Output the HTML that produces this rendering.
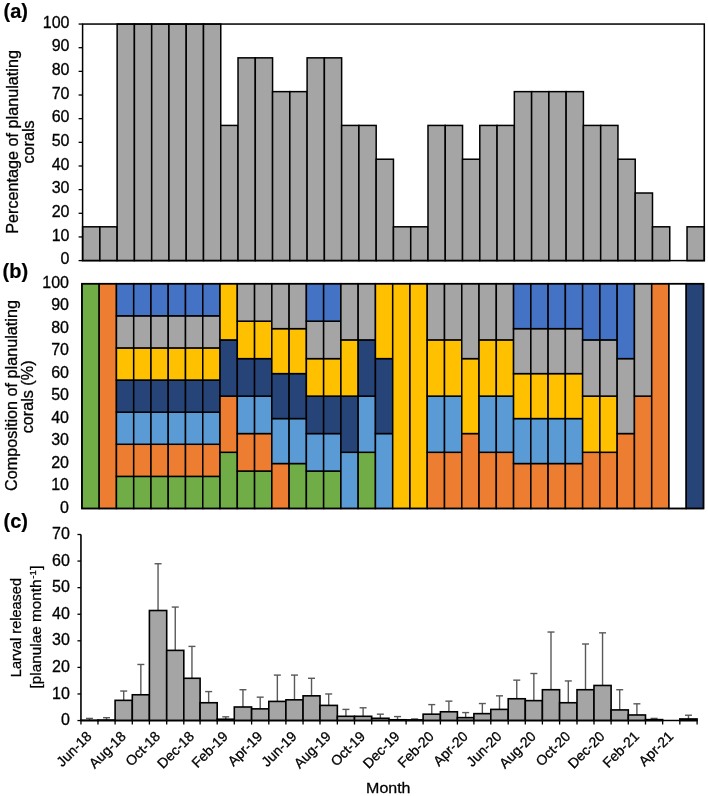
<!DOCTYPE html>
<html><head><meta charset="utf-8"><style>
html,body{margin:0;padding:0;background:#fff;}
svg{display:block;will-change:transform;}
.t{font-family:"Liberation Sans", sans-serif;font-size:16px;fill:#000;}
text{stroke:#000;stroke-width:0.3px;}
.lb{stroke-width:0.2px;}
.ti{font-family:"Liberation Sans", sans-serif;font-size:16.2px;fill:#000;}
.tc{font-family:"Liberation Sans", sans-serif;font-size:14.5px;fill:#000;}
.tc2{font-family:"Liberation Sans", sans-serif;font-size:15.3px;fill:#000;}
.tx{font-family:"Liberation Sans", sans-serif;font-size:14px;fill:#000;}
.tm{font-family:"Liberation Sans", sans-serif;font-size:16px;fill:#000;}
.lb{font-family:"Liberation Sans", sans-serif;font-size:20px;font-weight:bold;fill:#000;}
</style></head><body>
<svg width="708" height="796" viewBox="0 0 708 796">
<text x="3.5" y="18" class="lb">(a)</text>
<text x="2.5" y="277.5" class="lb">(b)</text>
<text x="3.5" y="528" class="lb">(c)</text>
<text transform="translate(17.7,141.9) rotate(-90)" text-anchor="middle" class="ti">Percentage of planulating</text>
<text transform="translate(34.3,141.9) rotate(-90)" text-anchor="middle" class="ti">corals</text>
<text transform="translate(16.6,395.5) rotate(-90)" text-anchor="middle" class="ti">Composition of planulating</text>
<text transform="translate(33,396.9) rotate(-90)" text-anchor="middle" class="ti">corals (%)</text>
<text transform="translate(21.2,627.6) rotate(-90)" text-anchor="middle" class="tc">Larval released</text>
<text transform="translate(40.5,688.4) rotate(-90)" class="tc2">[planulae month<tspan dy="-4.7" dx="0.8" font-size="9.5">-1</tspan><tspan dy="4.7" dx="0.6">]</tspan></text>
<text transform="translate(388.3,792.7) scale(1,0.92)" text-anchor="middle" class="tm">Month</text>
<rect x="82.60" y="226.81" width="17.27" height="33.79" fill="#A5A5A5" stroke="#000" stroke-width="1.5"/>
<rect x="99.87" y="226.81" width="17.27" height="33.79" fill="#A5A5A5" stroke="#000" stroke-width="1.5"/>
<rect x="117.14" y="24.05" width="17.27" height="236.55" fill="#A5A5A5" stroke="#000" stroke-width="1.5"/>
<rect x="134.41" y="24.05" width="17.27" height="236.55" fill="#A5A5A5" stroke="#000" stroke-width="1.5"/>
<rect x="151.68" y="24.05" width="17.27" height="236.55" fill="#A5A5A5" stroke="#000" stroke-width="1.5"/>
<rect x="168.95" y="24.05" width="17.27" height="236.55" fill="#A5A5A5" stroke="#000" stroke-width="1.5"/>
<rect x="186.22" y="24.05" width="17.27" height="236.55" fill="#A5A5A5" stroke="#000" stroke-width="1.5"/>
<rect x="203.49" y="24.05" width="17.27" height="236.55" fill="#A5A5A5" stroke="#000" stroke-width="1.5"/>
<rect x="220.76" y="125.43" width="17.27" height="135.17" fill="#A5A5A5" stroke="#000" stroke-width="1.5"/>
<rect x="238.02" y="57.84" width="17.27" height="202.76" fill="#A5A5A5" stroke="#000" stroke-width="1.5"/>
<rect x="255.29" y="57.84" width="17.27" height="202.76" fill="#A5A5A5" stroke="#000" stroke-width="1.5"/>
<rect x="272.56" y="91.64" width="17.27" height="168.96" fill="#A5A5A5" stroke="#000" stroke-width="1.5"/>
<rect x="289.83" y="91.64" width="17.27" height="168.96" fill="#A5A5A5" stroke="#000" stroke-width="1.5"/>
<rect x="307.10" y="57.84" width="17.27" height="202.76" fill="#A5A5A5" stroke="#000" stroke-width="1.5"/>
<rect x="324.37" y="57.84" width="17.27" height="202.76" fill="#A5A5A5" stroke="#000" stroke-width="1.5"/>
<rect x="341.64" y="125.43" width="17.27" height="135.17" fill="#A5A5A5" stroke="#000" stroke-width="1.5"/>
<rect x="358.91" y="125.43" width="17.27" height="135.17" fill="#A5A5A5" stroke="#000" stroke-width="1.5"/>
<rect x="376.18" y="159.22" width="17.27" height="101.38" fill="#A5A5A5" stroke="#000" stroke-width="1.5"/>
<rect x="393.45" y="226.81" width="17.27" height="33.79" fill="#A5A5A5" stroke="#000" stroke-width="1.5"/>
<rect x="410.72" y="226.81" width="17.27" height="33.79" fill="#A5A5A5" stroke="#000" stroke-width="1.5"/>
<rect x="427.99" y="125.43" width="17.27" height="135.17" fill="#A5A5A5" stroke="#000" stroke-width="1.5"/>
<rect x="445.26" y="125.43" width="17.27" height="135.17" fill="#A5A5A5" stroke="#000" stroke-width="1.5"/>
<rect x="462.53" y="159.22" width="17.27" height="101.38" fill="#A5A5A5" stroke="#000" stroke-width="1.5"/>
<rect x="479.80" y="125.43" width="17.27" height="135.17" fill="#A5A5A5" stroke="#000" stroke-width="1.5"/>
<rect x="497.07" y="125.43" width="17.27" height="135.17" fill="#A5A5A5" stroke="#000" stroke-width="1.5"/>
<rect x="514.34" y="91.64" width="17.27" height="168.96" fill="#A5A5A5" stroke="#000" stroke-width="1.5"/>
<rect x="531.61" y="91.64" width="17.27" height="168.96" fill="#A5A5A5" stroke="#000" stroke-width="1.5"/>
<rect x="548.87" y="91.64" width="17.27" height="168.96" fill="#A5A5A5" stroke="#000" stroke-width="1.5"/>
<rect x="566.14" y="91.64" width="17.27" height="168.96" fill="#A5A5A5" stroke="#000" stroke-width="1.5"/>
<rect x="583.41" y="125.43" width="17.27" height="135.17" fill="#A5A5A5" stroke="#000" stroke-width="1.5"/>
<rect x="600.68" y="125.43" width="17.27" height="135.17" fill="#A5A5A5" stroke="#000" stroke-width="1.5"/>
<rect x="617.95" y="159.22" width="17.27" height="101.38" fill="#A5A5A5" stroke="#000" stroke-width="1.5"/>
<rect x="635.22" y="193.01" width="17.27" height="67.59" fill="#A5A5A5" stroke="#000" stroke-width="1.5"/>
<rect x="652.49" y="226.81" width="17.27" height="33.79" fill="#A5A5A5" stroke="#000" stroke-width="1.5"/>
<rect x="687.03" y="226.81" width="17.27" height="33.79" fill="#A5A5A5" stroke="#000" stroke-width="1.5"/>
<rect x="82.60" y="24.05" width="621.70" height="236.55" fill="none" stroke="#000" stroke-width="1.5"/>
<line x1="78.60" y1="260.60" x2="82.60" y2="260.60" stroke="#000" stroke-width="1.3"/>
<text x="69.5" y="264.20" text-anchor="end" class="t">0</text>
<line x1="78.60" y1="236.95" x2="82.60" y2="236.95" stroke="#000" stroke-width="1.3"/>
<text x="69.5" y="240.55" text-anchor="end" class="t">10</text>
<line x1="78.60" y1="213.29" x2="82.60" y2="213.29" stroke="#000" stroke-width="1.3"/>
<text x="69.5" y="216.89" text-anchor="end" class="t">20</text>
<line x1="78.60" y1="189.64" x2="82.60" y2="189.64" stroke="#000" stroke-width="1.3"/>
<text x="69.5" y="193.24" text-anchor="end" class="t">30</text>
<line x1="78.60" y1="165.98" x2="82.60" y2="165.98" stroke="#000" stroke-width="1.3"/>
<text x="69.5" y="169.58" text-anchor="end" class="t">40</text>
<line x1="78.60" y1="142.33" x2="82.60" y2="142.33" stroke="#000" stroke-width="1.3"/>
<text x="69.5" y="145.93" text-anchor="end" class="t">50</text>
<line x1="78.60" y1="118.67" x2="82.60" y2="118.67" stroke="#000" stroke-width="1.3"/>
<text x="69.5" y="122.27" text-anchor="end" class="t">60</text>
<line x1="78.60" y1="95.02" x2="82.60" y2="95.02" stroke="#000" stroke-width="1.3"/>
<text x="69.5" y="98.62" text-anchor="end" class="t">70</text>
<line x1="78.60" y1="71.36" x2="82.60" y2="71.36" stroke="#000" stroke-width="1.3"/>
<text x="69.5" y="74.96" text-anchor="end" class="t">80</text>
<line x1="78.60" y1="47.70" x2="82.60" y2="47.70" stroke="#000" stroke-width="1.3"/>
<text x="69.5" y="51.30" text-anchor="end" class="t">90</text>
<line x1="78.60" y1="24.05" x2="82.60" y2="24.05" stroke="#000" stroke-width="1.3"/>
<text x="69.5" y="27.65" text-anchor="end" class="t">100</text>
<rect x="81.90" y="283.70" width="17.27" height="224.80" fill="#70AD47" stroke="#000" stroke-width="1.5"/>
<rect x="99.17" y="283.70" width="17.27" height="224.80" fill="#ED7D31" stroke="#000" stroke-width="1.5"/>
<rect x="116.43" y="476.39" width="17.27" height="32.11" fill="#70AD47" stroke="#000" stroke-width="1.5"/>
<rect x="116.43" y="444.27" width="17.27" height="32.11" fill="#ED7D31" stroke="#000" stroke-width="1.5"/>
<rect x="116.43" y="412.16" width="17.27" height="32.11" fill="#5B9BD5" stroke="#000" stroke-width="1.5"/>
<rect x="116.43" y="380.04" width="17.27" height="32.11" fill="#264478" stroke="#000" stroke-width="1.5"/>
<rect x="116.43" y="347.93" width="17.27" height="32.11" fill="#FFC000" stroke="#000" stroke-width="1.5"/>
<rect x="116.43" y="315.81" width="17.27" height="32.11" fill="#A5A5A5" stroke="#000" stroke-width="1.5"/>
<rect x="116.43" y="283.70" width="17.27" height="32.11" fill="#4472C4" stroke="#000" stroke-width="1.5"/>
<rect x="133.70" y="476.39" width="17.27" height="32.11" fill="#70AD47" stroke="#000" stroke-width="1.5"/>
<rect x="133.70" y="444.27" width="17.27" height="32.11" fill="#ED7D31" stroke="#000" stroke-width="1.5"/>
<rect x="133.70" y="412.16" width="17.27" height="32.11" fill="#5B9BD5" stroke="#000" stroke-width="1.5"/>
<rect x="133.70" y="380.04" width="17.27" height="32.11" fill="#264478" stroke="#000" stroke-width="1.5"/>
<rect x="133.70" y="347.93" width="17.27" height="32.11" fill="#FFC000" stroke="#000" stroke-width="1.5"/>
<rect x="133.70" y="315.81" width="17.27" height="32.11" fill="#A5A5A5" stroke="#000" stroke-width="1.5"/>
<rect x="133.70" y="283.70" width="17.27" height="32.11" fill="#4472C4" stroke="#000" stroke-width="1.5"/>
<rect x="150.97" y="476.39" width="17.27" height="32.11" fill="#70AD47" stroke="#000" stroke-width="1.5"/>
<rect x="150.97" y="444.27" width="17.27" height="32.11" fill="#ED7D31" stroke="#000" stroke-width="1.5"/>
<rect x="150.97" y="412.16" width="17.27" height="32.11" fill="#5B9BD5" stroke="#000" stroke-width="1.5"/>
<rect x="150.97" y="380.04" width="17.27" height="32.11" fill="#264478" stroke="#000" stroke-width="1.5"/>
<rect x="150.97" y="347.93" width="17.27" height="32.11" fill="#FFC000" stroke="#000" stroke-width="1.5"/>
<rect x="150.97" y="315.81" width="17.27" height="32.11" fill="#A5A5A5" stroke="#000" stroke-width="1.5"/>
<rect x="150.97" y="283.70" width="17.27" height="32.11" fill="#4472C4" stroke="#000" stroke-width="1.5"/>
<rect x="168.23" y="476.39" width="17.27" height="32.11" fill="#70AD47" stroke="#000" stroke-width="1.5"/>
<rect x="168.23" y="444.27" width="17.27" height="32.11" fill="#ED7D31" stroke="#000" stroke-width="1.5"/>
<rect x="168.23" y="412.16" width="17.27" height="32.11" fill="#5B9BD5" stroke="#000" stroke-width="1.5"/>
<rect x="168.23" y="380.04" width="17.27" height="32.11" fill="#264478" stroke="#000" stroke-width="1.5"/>
<rect x="168.23" y="347.93" width="17.27" height="32.11" fill="#FFC000" stroke="#000" stroke-width="1.5"/>
<rect x="168.23" y="315.81" width="17.27" height="32.11" fill="#A5A5A5" stroke="#000" stroke-width="1.5"/>
<rect x="168.23" y="283.70" width="17.27" height="32.11" fill="#4472C4" stroke="#000" stroke-width="1.5"/>
<rect x="185.50" y="476.39" width="17.27" height="32.11" fill="#70AD47" stroke="#000" stroke-width="1.5"/>
<rect x="185.50" y="444.27" width="17.27" height="32.11" fill="#ED7D31" stroke="#000" stroke-width="1.5"/>
<rect x="185.50" y="412.16" width="17.27" height="32.11" fill="#5B9BD5" stroke="#000" stroke-width="1.5"/>
<rect x="185.50" y="380.04" width="17.27" height="32.11" fill="#264478" stroke="#000" stroke-width="1.5"/>
<rect x="185.50" y="347.93" width="17.27" height="32.11" fill="#FFC000" stroke="#000" stroke-width="1.5"/>
<rect x="185.50" y="315.81" width="17.27" height="32.11" fill="#A5A5A5" stroke="#000" stroke-width="1.5"/>
<rect x="185.50" y="283.70" width="17.27" height="32.11" fill="#4472C4" stroke="#000" stroke-width="1.5"/>
<rect x="202.77" y="476.39" width="17.27" height="32.11" fill="#70AD47" stroke="#000" stroke-width="1.5"/>
<rect x="202.77" y="444.27" width="17.27" height="32.11" fill="#ED7D31" stroke="#000" stroke-width="1.5"/>
<rect x="202.77" y="412.16" width="17.27" height="32.11" fill="#5B9BD5" stroke="#000" stroke-width="1.5"/>
<rect x="202.77" y="380.04" width="17.27" height="32.11" fill="#264478" stroke="#000" stroke-width="1.5"/>
<rect x="202.77" y="347.93" width="17.27" height="32.11" fill="#FFC000" stroke="#000" stroke-width="1.5"/>
<rect x="202.77" y="315.81" width="17.27" height="32.11" fill="#A5A5A5" stroke="#000" stroke-width="1.5"/>
<rect x="202.77" y="283.70" width="17.27" height="32.11" fill="#4472C4" stroke="#000" stroke-width="1.5"/>
<rect x="220.03" y="452.30" width="17.27" height="56.20" fill="#70AD47" stroke="#000" stroke-width="1.5"/>
<rect x="220.03" y="396.10" width="17.27" height="56.20" fill="#ED7D31" stroke="#000" stroke-width="1.5"/>
<rect x="220.03" y="339.90" width="17.27" height="56.20" fill="#264478" stroke="#000" stroke-width="1.5"/>
<rect x="220.03" y="283.70" width="17.27" height="56.20" fill="#FFC000" stroke="#000" stroke-width="1.5"/>
<rect x="237.30" y="471.03" width="17.27" height="37.47" fill="#70AD47" stroke="#000" stroke-width="1.5"/>
<rect x="237.30" y="433.57" width="17.27" height="37.47" fill="#ED7D31" stroke="#000" stroke-width="1.5"/>
<rect x="237.30" y="396.10" width="17.27" height="37.47" fill="#5B9BD5" stroke="#000" stroke-width="1.5"/>
<rect x="237.30" y="358.63" width="17.27" height="37.47" fill="#264478" stroke="#000" stroke-width="1.5"/>
<rect x="237.30" y="321.17" width="17.27" height="37.47" fill="#FFC000" stroke="#000" stroke-width="1.5"/>
<rect x="237.30" y="283.70" width="17.27" height="37.47" fill="#A5A5A5" stroke="#000" stroke-width="1.5"/>
<rect x="254.57" y="471.03" width="17.27" height="37.47" fill="#70AD47" stroke="#000" stroke-width="1.5"/>
<rect x="254.57" y="433.57" width="17.27" height="37.47" fill="#ED7D31" stroke="#000" stroke-width="1.5"/>
<rect x="254.57" y="396.10" width="17.27" height="37.47" fill="#5B9BD5" stroke="#000" stroke-width="1.5"/>
<rect x="254.57" y="358.63" width="17.27" height="37.47" fill="#264478" stroke="#000" stroke-width="1.5"/>
<rect x="254.57" y="321.17" width="17.27" height="37.47" fill="#FFC000" stroke="#000" stroke-width="1.5"/>
<rect x="254.57" y="283.70" width="17.27" height="37.47" fill="#A5A5A5" stroke="#000" stroke-width="1.5"/>
<rect x="271.83" y="463.54" width="17.27" height="44.96" fill="#ED7D31" stroke="#000" stroke-width="1.5"/>
<rect x="271.83" y="418.58" width="17.27" height="44.96" fill="#5B9BD5" stroke="#000" stroke-width="1.5"/>
<rect x="271.83" y="373.62" width="17.27" height="44.96" fill="#264478" stroke="#000" stroke-width="1.5"/>
<rect x="271.83" y="328.66" width="17.27" height="44.96" fill="#FFC000" stroke="#000" stroke-width="1.5"/>
<rect x="271.83" y="283.70" width="17.27" height="44.96" fill="#A5A5A5" stroke="#000" stroke-width="1.5"/>
<rect x="289.10" y="463.54" width="17.27" height="44.96" fill="#70AD47" stroke="#000" stroke-width="1.5"/>
<rect x="289.10" y="418.58" width="17.27" height="44.96" fill="#5B9BD5" stroke="#000" stroke-width="1.5"/>
<rect x="289.10" y="373.62" width="17.27" height="44.96" fill="#264478" stroke="#000" stroke-width="1.5"/>
<rect x="289.10" y="328.66" width="17.27" height="44.96" fill="#FFC000" stroke="#000" stroke-width="1.5"/>
<rect x="289.10" y="283.70" width="17.27" height="44.96" fill="#A5A5A5" stroke="#000" stroke-width="1.5"/>
<rect x="306.37" y="471.03" width="17.27" height="37.47" fill="#70AD47" stroke="#000" stroke-width="1.5"/>
<rect x="306.37" y="433.57" width="17.27" height="37.47" fill="#5B9BD5" stroke="#000" stroke-width="1.5"/>
<rect x="306.37" y="396.10" width="17.27" height="37.47" fill="#264478" stroke="#000" stroke-width="1.5"/>
<rect x="306.37" y="358.63" width="17.27" height="37.47" fill="#FFC000" stroke="#000" stroke-width="1.5"/>
<rect x="306.37" y="321.17" width="17.27" height="37.47" fill="#A5A5A5" stroke="#000" stroke-width="1.5"/>
<rect x="306.37" y="283.70" width="17.27" height="37.47" fill="#4472C4" stroke="#000" stroke-width="1.5"/>
<rect x="323.63" y="471.03" width="17.27" height="37.47" fill="#70AD47" stroke="#000" stroke-width="1.5"/>
<rect x="323.63" y="433.57" width="17.27" height="37.47" fill="#5B9BD5" stroke="#000" stroke-width="1.5"/>
<rect x="323.63" y="396.10" width="17.27" height="37.47" fill="#264478" stroke="#000" stroke-width="1.5"/>
<rect x="323.63" y="358.63" width="17.27" height="37.47" fill="#FFC000" stroke="#000" stroke-width="1.5"/>
<rect x="323.63" y="321.17" width="17.27" height="37.47" fill="#A5A5A5" stroke="#000" stroke-width="1.5"/>
<rect x="323.63" y="283.70" width="17.27" height="37.47" fill="#4472C4" stroke="#000" stroke-width="1.5"/>
<rect x="340.90" y="452.30" width="17.27" height="56.20" fill="#5B9BD5" stroke="#000" stroke-width="1.5"/>
<rect x="340.90" y="396.10" width="17.27" height="56.20" fill="#264478" stroke="#000" stroke-width="1.5"/>
<rect x="340.90" y="339.90" width="17.27" height="56.20" fill="#FFC000" stroke="#000" stroke-width="1.5"/>
<rect x="340.90" y="283.70" width="17.27" height="56.20" fill="#A5A5A5" stroke="#000" stroke-width="1.5"/>
<rect x="358.17" y="452.30" width="17.27" height="56.20" fill="#70AD47" stroke="#000" stroke-width="1.5"/>
<rect x="358.17" y="396.10" width="17.27" height="56.20" fill="#5B9BD5" stroke="#000" stroke-width="1.5"/>
<rect x="358.17" y="339.90" width="17.27" height="56.20" fill="#264478" stroke="#000" stroke-width="1.5"/>
<rect x="358.17" y="283.70" width="17.27" height="56.20" fill="#A5A5A5" stroke="#000" stroke-width="1.5"/>
<rect x="375.43" y="433.57" width="17.27" height="74.93" fill="#5B9BD5" stroke="#000" stroke-width="1.5"/>
<rect x="375.43" y="358.63" width="17.27" height="74.93" fill="#264478" stroke="#000" stroke-width="1.5"/>
<rect x="375.43" y="283.70" width="17.27" height="74.93" fill="#FFC000" stroke="#000" stroke-width="1.5"/>
<rect x="392.70" y="283.70" width="17.27" height="224.80" fill="#FFC000" stroke="#000" stroke-width="1.5"/>
<rect x="409.97" y="283.70" width="17.27" height="224.80" fill="#FFC000" stroke="#000" stroke-width="1.5"/>
<rect x="427.23" y="452.30" width="17.27" height="56.20" fill="#ED7D31" stroke="#000" stroke-width="1.5"/>
<rect x="427.23" y="396.10" width="17.27" height="56.20" fill="#5B9BD5" stroke="#000" stroke-width="1.5"/>
<rect x="427.23" y="339.90" width="17.27" height="56.20" fill="#FFC000" stroke="#000" stroke-width="1.5"/>
<rect x="427.23" y="283.70" width="17.27" height="56.20" fill="#A5A5A5" stroke="#000" stroke-width="1.5"/>
<rect x="444.50" y="452.30" width="17.27" height="56.20" fill="#ED7D31" stroke="#000" stroke-width="1.5"/>
<rect x="444.50" y="396.10" width="17.27" height="56.20" fill="#5B9BD5" stroke="#000" stroke-width="1.5"/>
<rect x="444.50" y="339.90" width="17.27" height="56.20" fill="#FFC000" stroke="#000" stroke-width="1.5"/>
<rect x="444.50" y="283.70" width="17.27" height="56.20" fill="#A5A5A5" stroke="#000" stroke-width="1.5"/>
<rect x="461.77" y="433.57" width="17.27" height="74.93" fill="#ED7D31" stroke="#000" stroke-width="1.5"/>
<rect x="461.77" y="358.63" width="17.27" height="74.93" fill="#FFC000" stroke="#000" stroke-width="1.5"/>
<rect x="461.77" y="283.70" width="17.27" height="74.93" fill="#A5A5A5" stroke="#000" stroke-width="1.5"/>
<rect x="479.03" y="452.30" width="17.27" height="56.20" fill="#ED7D31" stroke="#000" stroke-width="1.5"/>
<rect x="479.03" y="396.10" width="17.27" height="56.20" fill="#5B9BD5" stroke="#000" stroke-width="1.5"/>
<rect x="479.03" y="339.90" width="17.27" height="56.20" fill="#FFC000" stroke="#000" stroke-width="1.5"/>
<rect x="479.03" y="283.70" width="17.27" height="56.20" fill="#A5A5A5" stroke="#000" stroke-width="1.5"/>
<rect x="496.30" y="452.30" width="17.27" height="56.20" fill="#ED7D31" stroke="#000" stroke-width="1.5"/>
<rect x="496.30" y="396.10" width="17.27" height="56.20" fill="#5B9BD5" stroke="#000" stroke-width="1.5"/>
<rect x="496.30" y="339.90" width="17.27" height="56.20" fill="#FFC000" stroke="#000" stroke-width="1.5"/>
<rect x="496.30" y="283.70" width="17.27" height="56.20" fill="#A5A5A5" stroke="#000" stroke-width="1.5"/>
<rect x="513.57" y="463.54" width="17.27" height="44.96" fill="#ED7D31" stroke="#000" stroke-width="1.5"/>
<rect x="513.57" y="418.58" width="17.27" height="44.96" fill="#5B9BD5" stroke="#000" stroke-width="1.5"/>
<rect x="513.57" y="373.62" width="17.27" height="44.96" fill="#FFC000" stroke="#000" stroke-width="1.5"/>
<rect x="513.57" y="328.66" width="17.27" height="44.96" fill="#A5A5A5" stroke="#000" stroke-width="1.5"/>
<rect x="513.57" y="283.70" width="17.27" height="44.96" fill="#4472C4" stroke="#000" stroke-width="1.5"/>
<rect x="530.83" y="463.54" width="17.27" height="44.96" fill="#ED7D31" stroke="#000" stroke-width="1.5"/>
<rect x="530.83" y="418.58" width="17.27" height="44.96" fill="#5B9BD5" stroke="#000" stroke-width="1.5"/>
<rect x="530.83" y="373.62" width="17.27" height="44.96" fill="#FFC000" stroke="#000" stroke-width="1.5"/>
<rect x="530.83" y="328.66" width="17.27" height="44.96" fill="#A5A5A5" stroke="#000" stroke-width="1.5"/>
<rect x="530.83" y="283.70" width="17.27" height="44.96" fill="#4472C4" stroke="#000" stroke-width="1.5"/>
<rect x="548.10" y="463.54" width="17.27" height="44.96" fill="#ED7D31" stroke="#000" stroke-width="1.5"/>
<rect x="548.10" y="418.58" width="17.27" height="44.96" fill="#5B9BD5" stroke="#000" stroke-width="1.5"/>
<rect x="548.10" y="373.62" width="17.27" height="44.96" fill="#FFC000" stroke="#000" stroke-width="1.5"/>
<rect x="548.10" y="328.66" width="17.27" height="44.96" fill="#A5A5A5" stroke="#000" stroke-width="1.5"/>
<rect x="548.10" y="283.70" width="17.27" height="44.96" fill="#4472C4" stroke="#000" stroke-width="1.5"/>
<rect x="565.37" y="463.54" width="17.27" height="44.96" fill="#ED7D31" stroke="#000" stroke-width="1.5"/>
<rect x="565.37" y="418.58" width="17.27" height="44.96" fill="#5B9BD5" stroke="#000" stroke-width="1.5"/>
<rect x="565.37" y="373.62" width="17.27" height="44.96" fill="#FFC000" stroke="#000" stroke-width="1.5"/>
<rect x="565.37" y="328.66" width="17.27" height="44.96" fill="#A5A5A5" stroke="#000" stroke-width="1.5"/>
<rect x="565.37" y="283.70" width="17.27" height="44.96" fill="#4472C4" stroke="#000" stroke-width="1.5"/>
<rect x="582.63" y="452.30" width="17.27" height="56.20" fill="#ED7D31" stroke="#000" stroke-width="1.5"/>
<rect x="582.63" y="396.10" width="17.27" height="56.20" fill="#FFC000" stroke="#000" stroke-width="1.5"/>
<rect x="582.63" y="339.90" width="17.27" height="56.20" fill="#A5A5A5" stroke="#000" stroke-width="1.5"/>
<rect x="582.63" y="283.70" width="17.27" height="56.20" fill="#4472C4" stroke="#000" stroke-width="1.5"/>
<rect x="599.90" y="452.30" width="17.27" height="56.20" fill="#ED7D31" stroke="#000" stroke-width="1.5"/>
<rect x="599.90" y="396.10" width="17.27" height="56.20" fill="#FFC000" stroke="#000" stroke-width="1.5"/>
<rect x="599.90" y="339.90" width="17.27" height="56.20" fill="#A5A5A5" stroke="#000" stroke-width="1.5"/>
<rect x="599.90" y="283.70" width="17.27" height="56.20" fill="#4472C4" stroke="#000" stroke-width="1.5"/>
<rect x="617.17" y="433.57" width="17.27" height="74.93" fill="#ED7D31" stroke="#000" stroke-width="1.5"/>
<rect x="617.17" y="358.63" width="17.27" height="74.93" fill="#A5A5A5" stroke="#000" stroke-width="1.5"/>
<rect x="617.17" y="283.70" width="17.27" height="74.93" fill="#4472C4" stroke="#000" stroke-width="1.5"/>
<rect x="634.43" y="396.10" width="17.27" height="112.40" fill="#ED7D31" stroke="#000" stroke-width="1.5"/>
<rect x="634.43" y="283.70" width="17.27" height="112.40" fill="#A5A5A5" stroke="#000" stroke-width="1.5"/>
<rect x="651.70" y="283.70" width="17.27" height="224.80" fill="#ED7D31" stroke="#000" stroke-width="1.5"/>
<rect x="668.97" y="283.70" width="17.27" height="224.80" fill="#fff" stroke="#000" stroke-width="1.5"/>
<rect x="686.23" y="283.70" width="17.27" height="224.80" fill="#264478" stroke="#000" stroke-width="1.5"/>
<rect x="81.90" y="283.70" width="621.60" height="224.80" fill="none" stroke="#000" stroke-width="1.5"/>
<text x="69" y="512.80" text-anchor="end" class="t">0</text>
<text x="69" y="490.32" text-anchor="end" class="t">10</text>
<text x="69" y="467.84" text-anchor="end" class="t">20</text>
<text x="69" y="445.36" text-anchor="end" class="t">30</text>
<text x="69" y="422.88" text-anchor="end" class="t">40</text>
<text x="69" y="400.40" text-anchor="end" class="t">50</text>
<text x="69" y="377.92" text-anchor="end" class="t">60</text>
<text x="69" y="355.44" text-anchor="end" class="t">70</text>
<text x="69" y="332.96" text-anchor="end" class="t">80</text>
<text x="69" y="310.48" text-anchor="end" class="t">90</text>
<text x="69" y="288.00" text-anchor="end" class="t">100</text>
<line x1="89.47" y1="720.28" x2="89.47" y2="718.42" stroke="#595959" stroke-width="1.4"/>
<line x1="85.97" y1="718.42" x2="92.97" y2="718.42" stroke="#595959" stroke-width="1.4"/>
<line x1="106.53" y1="720.02" x2="106.53" y2="717.71" stroke="#595959" stroke-width="1.4"/>
<line x1="103.03" y1="717.71" x2="110.03" y2="717.71" stroke="#595959" stroke-width="1.4"/>
<line x1="123.70" y1="700.35" x2="123.70" y2="691.05" stroke="#595959" stroke-width="1.4"/>
<line x1="120.20" y1="691.05" x2="127.20" y2="691.05" stroke="#595959" stroke-width="1.4"/>
<line x1="140.85" y1="694.77" x2="140.85" y2="664.47" stroke="#595959" stroke-width="1.4"/>
<line x1="137.35" y1="664.47" x2="144.35" y2="664.47" stroke="#595959" stroke-width="1.4"/>
<line x1="158.05" y1="610.51" x2="158.05" y2="563.74" stroke="#595959" stroke-width="1.4"/>
<line x1="154.55" y1="563.74" x2="161.55" y2="563.74" stroke="#595959" stroke-width="1.4"/>
<line x1="175.25" y1="650.38" x2="175.25" y2="607.06" stroke="#595959" stroke-width="1.4"/>
<line x1="171.75" y1="607.06" x2="178.75" y2="607.06" stroke="#595959" stroke-width="1.4"/>
<line x1="191.95" y1="678.29" x2="191.95" y2="646.40" stroke="#595959" stroke-width="1.4"/>
<line x1="188.45" y1="646.40" x2="195.45" y2="646.40" stroke="#595959" stroke-width="1.4"/>
<line x1="208.65" y1="702.74" x2="208.65" y2="691.58" stroke="#595959" stroke-width="1.4"/>
<line x1="205.15" y1="691.58" x2="212.15" y2="691.58" stroke="#595959" stroke-width="1.4"/>
<line x1="225.75" y1="719.22" x2="225.75" y2="716.83" stroke="#595959" stroke-width="1.4"/>
<line x1="222.25" y1="716.83" x2="229.25" y2="716.83" stroke="#595959" stroke-width="1.4"/>
<line x1="242.95" y1="706.99" x2="242.95" y2="689.72" stroke="#595959" stroke-width="1.4"/>
<line x1="239.45" y1="689.72" x2="246.45" y2="689.72" stroke="#595959" stroke-width="1.4"/>
<line x1="260.20" y1="708.86" x2="260.20" y2="697.16" stroke="#595959" stroke-width="1.4"/>
<line x1="256.70" y1="697.16" x2="263.70" y2="697.16" stroke="#595959" stroke-width="1.4"/>
<line x1="277.35" y1="701.41" x2="277.35" y2="675.10" stroke="#595959" stroke-width="1.4"/>
<line x1="273.85" y1="675.10" x2="280.85" y2="675.10" stroke="#595959" stroke-width="1.4"/>
<line x1="294.48" y1="699.82" x2="294.48" y2="675.10" stroke="#595959" stroke-width="1.4"/>
<line x1="290.98" y1="675.10" x2="297.98" y2="675.10" stroke="#595959" stroke-width="1.4"/>
<line x1="311.52" y1="695.83" x2="311.52" y2="678.29" stroke="#595959" stroke-width="1.4"/>
<line x1="308.02" y1="678.29" x2="315.02" y2="678.29" stroke="#595959" stroke-width="1.4"/>
<line x1="328.68" y1="705.40" x2="328.68" y2="693.97" stroke="#595959" stroke-width="1.4"/>
<line x1="325.18" y1="693.97" x2="332.18" y2="693.97" stroke="#595959" stroke-width="1.4"/>
<line x1="345.93" y1="716.30" x2="345.93" y2="709.39" stroke="#595959" stroke-width="1.4"/>
<line x1="342.43" y1="709.39" x2="349.43" y2="709.39" stroke="#595959" stroke-width="1.4"/>
<line x1="363.10" y1="716.30" x2="363.10" y2="707.79" stroke="#595959" stroke-width="1.4"/>
<line x1="359.60" y1="707.79" x2="366.60" y2="707.79" stroke="#595959" stroke-width="1.4"/>
<line x1="380.35" y1="718.29" x2="380.35" y2="714.17" stroke="#595959" stroke-width="1.4"/>
<line x1="376.85" y1="714.17" x2="383.85" y2="714.17" stroke="#595959" stroke-width="1.4"/>
<line x1="397.55" y1="719.75" x2="397.55" y2="716.56" stroke="#595959" stroke-width="1.4"/>
<line x1="394.05" y1="716.56" x2="401.05" y2="716.56" stroke="#595959" stroke-width="1.4"/>
<line x1="414.60" y1="719.89" x2="414.60" y2="718.96" stroke="#595959" stroke-width="1.4"/>
<line x1="411.10" y1="718.96" x2="418.10" y2="718.96" stroke="#595959" stroke-width="1.4"/>
<line x1="431.75" y1="714.17" x2="431.75" y2="704.60" stroke="#595959" stroke-width="1.4"/>
<line x1="428.25" y1="704.60" x2="435.25" y2="704.60" stroke="#595959" stroke-width="1.4"/>
<line x1="448.90" y1="711.78" x2="448.90" y2="701.15" stroke="#595959" stroke-width="1.4"/>
<line x1="445.40" y1="701.15" x2="452.40" y2="701.15" stroke="#595959" stroke-width="1.4"/>
<line x1="465.65" y1="717.63" x2="465.65" y2="712.58" stroke="#595959" stroke-width="1.4"/>
<line x1="462.15" y1="712.58" x2="469.15" y2="712.58" stroke="#595959" stroke-width="1.4"/>
<line x1="482.35" y1="713.64" x2="482.35" y2="703.54" stroke="#595959" stroke-width="1.4"/>
<line x1="478.85" y1="703.54" x2="485.85" y2="703.54" stroke="#595959" stroke-width="1.4"/>
<line x1="499.50" y1="709.39" x2="499.50" y2="695.83" stroke="#595959" stroke-width="1.4"/>
<line x1="496.00" y1="695.83" x2="503.00" y2="695.83" stroke="#595959" stroke-width="1.4"/>
<line x1="516.75" y1="698.76" x2="516.75" y2="680.15" stroke="#595959" stroke-width="1.4"/>
<line x1="513.25" y1="680.15" x2="520.25" y2="680.15" stroke="#595959" stroke-width="1.4"/>
<line x1="533.85" y1="700.62" x2="533.85" y2="673.51" stroke="#595959" stroke-width="1.4"/>
<line x1="530.35" y1="673.51" x2="537.35" y2="673.51" stroke="#595959" stroke-width="1.4"/>
<line x1="551.00" y1="689.72" x2="551.00" y2="632.04" stroke="#595959" stroke-width="1.4"/>
<line x1="547.50" y1="632.04" x2="554.50" y2="632.04" stroke="#595959" stroke-width="1.4"/>
<line x1="568.30" y1="702.74" x2="568.30" y2="680.95" stroke="#595959" stroke-width="1.4"/>
<line x1="564.80" y1="680.95" x2="571.80" y2="680.95" stroke="#595959" stroke-width="1.4"/>
<line x1="585.50" y1="689.72" x2="585.50" y2="644.00" stroke="#595959" stroke-width="1.4"/>
<line x1="582.00" y1="644.00" x2="589.00" y2="644.00" stroke="#595959" stroke-width="1.4"/>
<line x1="602.55" y1="685.47" x2="602.55" y2="632.84" stroke="#595959" stroke-width="1.4"/>
<line x1="599.05" y1="632.84" x2="606.05" y2="632.84" stroke="#595959" stroke-width="1.4"/>
<line x1="619.70" y1="709.92" x2="619.70" y2="689.72" stroke="#595959" stroke-width="1.4"/>
<line x1="616.20" y1="689.72" x2="623.20" y2="689.72" stroke="#595959" stroke-width="1.4"/>
<line x1="636.90" y1="714.97" x2="636.90" y2="703.81" stroke="#595959" stroke-width="1.4"/>
<line x1="633.40" y1="703.81" x2="640.40" y2="703.81" stroke="#595959" stroke-width="1.4"/>
<line x1="654.08" y1="719.62" x2="654.08" y2="718.42" stroke="#595959" stroke-width="1.4"/>
<line x1="650.58" y1="718.42" x2="657.58" y2="718.42" stroke="#595959" stroke-width="1.4"/>
<line x1="688.47" y1="718.96" x2="688.47" y2="715.23" stroke="#595959" stroke-width="1.4"/>
<line x1="684.97" y1="715.23" x2="691.97" y2="715.23" stroke="#595959" stroke-width="1.4"/>
<rect x="80.96" y="720.28" width="17.01" height="0.27" fill="#A5A5A5" stroke="#000" stroke-width="1.6"/>
<rect x="97.97" y="720.02" width="17.13" height="0.53" fill="#A5A5A5" stroke="#000" stroke-width="1.6"/>
<rect x="115.10" y="700.35" width="17.20" height="20.20" fill="#A5A5A5" stroke="#000" stroke-width="1.6"/>
<rect x="132.30" y="694.77" width="17.10" height="25.78" fill="#A5A5A5" stroke="#000" stroke-width="1.6"/>
<rect x="149.40" y="610.51" width="17.30" height="110.04" fill="#A5A5A5" stroke="#000" stroke-width="1.6"/>
<rect x="166.70" y="650.38" width="17.10" height="70.17" fill="#A5A5A5" stroke="#000" stroke-width="1.6"/>
<rect x="183.80" y="678.29" width="16.30" height="42.26" fill="#A5A5A5" stroke="#000" stroke-width="1.6"/>
<rect x="200.10" y="702.74" width="17.10" height="17.81" fill="#A5A5A5" stroke="#000" stroke-width="1.6"/>
<rect x="217.20" y="719.22" width="17.10" height="1.33" fill="#A5A5A5" stroke="#000" stroke-width="1.6"/>
<rect x="234.30" y="706.99" width="17.30" height="13.56" fill="#A5A5A5" stroke="#000" stroke-width="1.6"/>
<rect x="251.60" y="708.86" width="17.20" height="11.69" fill="#A5A5A5" stroke="#000" stroke-width="1.6"/>
<rect x="268.80" y="701.41" width="17.10" height="19.14" fill="#A5A5A5" stroke="#000" stroke-width="1.6"/>
<rect x="285.90" y="699.82" width="17.15" height="20.73" fill="#A5A5A5" stroke="#000" stroke-width="1.6"/>
<rect x="303.05" y="695.83" width="16.95" height="24.72" fill="#A5A5A5" stroke="#000" stroke-width="1.6"/>
<rect x="320.00" y="705.40" width="17.35" height="15.15" fill="#A5A5A5" stroke="#000" stroke-width="1.6"/>
<rect x="337.35" y="716.30" width="17.15" height="4.25" fill="#A5A5A5" stroke="#000" stroke-width="1.6"/>
<rect x="354.50" y="716.30" width="17.20" height="4.25" fill="#A5A5A5" stroke="#000" stroke-width="1.6"/>
<rect x="371.70" y="718.29" width="17.30" height="2.26" fill="#A5A5A5" stroke="#000" stroke-width="1.6"/>
<rect x="389.00" y="719.75" width="17.10" height="0.80" fill="#A5A5A5" stroke="#000" stroke-width="1.6"/>
<rect x="406.10" y="719.89" width="17.00" height="0.66" fill="#A5A5A5" stroke="#000" stroke-width="1.6"/>
<rect x="423.10" y="714.17" width="17.30" height="6.38" fill="#A5A5A5" stroke="#000" stroke-width="1.6"/>
<rect x="440.40" y="711.78" width="17.00" height="8.77" fill="#A5A5A5" stroke="#000" stroke-width="1.6"/>
<rect x="457.40" y="717.63" width="16.50" height="2.92" fill="#A5A5A5" stroke="#000" stroke-width="1.6"/>
<rect x="473.90" y="713.64" width="16.90" height="6.91" fill="#A5A5A5" stroke="#000" stroke-width="1.6"/>
<rect x="490.80" y="709.39" width="17.40" height="11.16" fill="#A5A5A5" stroke="#000" stroke-width="1.6"/>
<rect x="508.20" y="698.76" width="17.10" height="21.79" fill="#A5A5A5" stroke="#000" stroke-width="1.6"/>
<rect x="525.30" y="700.62" width="17.10" height="19.93" fill="#A5A5A5" stroke="#000" stroke-width="1.6"/>
<rect x="542.40" y="689.72" width="17.20" height="30.83" fill="#A5A5A5" stroke="#000" stroke-width="1.6"/>
<rect x="559.60" y="702.74" width="17.40" height="17.81" fill="#A5A5A5" stroke="#000" stroke-width="1.6"/>
<rect x="577.00" y="689.72" width="17.00" height="30.83" fill="#A5A5A5" stroke="#000" stroke-width="1.6"/>
<rect x="594.00" y="685.47" width="17.10" height="35.08" fill="#A5A5A5" stroke="#000" stroke-width="1.6"/>
<rect x="611.10" y="709.92" width="17.20" height="10.63" fill="#A5A5A5" stroke="#000" stroke-width="1.6"/>
<rect x="628.30" y="714.97" width="17.20" height="5.58" fill="#A5A5A5" stroke="#000" stroke-width="1.6"/>
<rect x="645.50" y="719.62" width="17.15" height="0.93" fill="#A5A5A5" stroke="#000" stroke-width="1.6"/>
<rect x="679.83" y="718.96" width="17.27" height="1.59" fill="#A5A5A5" stroke="#000" stroke-width="1.6"/>
<line x1="80.95" y1="534.50" x2="80.95" y2="720.55" stroke="#000" stroke-width="1.6"/>
<line x1="80.95" y1="720.55" x2="697.10" y2="720.55" stroke="#000" stroke-width="1.6"/>
<line x1="77.45" y1="720.55" x2="80.95" y2="720.55" stroke="#000" stroke-width="1.3"/>
<text x="69.8" y="725.15" text-anchor="end" class="t">0</text>
<line x1="77.45" y1="693.97" x2="80.95" y2="693.97" stroke="#000" stroke-width="1.3"/>
<text x="69.8" y="698.57" text-anchor="end" class="t">10</text>
<line x1="77.45" y1="667.39" x2="80.95" y2="667.39" stroke="#000" stroke-width="1.3"/>
<text x="69.8" y="671.99" text-anchor="end" class="t">20</text>
<line x1="77.45" y1="640.81" x2="80.95" y2="640.81" stroke="#000" stroke-width="1.3"/>
<text x="69.8" y="645.41" text-anchor="end" class="t">30</text>
<line x1="77.45" y1="614.24" x2="80.95" y2="614.24" stroke="#000" stroke-width="1.3"/>
<text x="69.8" y="618.84" text-anchor="end" class="t">40</text>
<line x1="77.45" y1="587.66" x2="80.95" y2="587.66" stroke="#000" stroke-width="1.3"/>
<text x="69.8" y="592.26" text-anchor="end" class="t">50</text>
<line x1="77.45" y1="561.08" x2="80.95" y2="561.08" stroke="#000" stroke-width="1.3"/>
<text x="69.8" y="565.68" text-anchor="end" class="t">60</text>
<line x1="77.45" y1="534.50" x2="80.95" y2="534.50" stroke="#000" stroke-width="1.3"/>
<text x="69.8" y="539.10" text-anchor="end" class="t">70</text>
<line x1="80.96" y1="720.55" x2="80.96" y2="724.55" stroke="#000" stroke-width="1.3"/>
<line x1="97.97" y1="720.55" x2="97.97" y2="724.55" stroke="#000" stroke-width="1.3"/>
<line x1="115.10" y1="720.55" x2="115.10" y2="724.55" stroke="#000" stroke-width="1.3"/>
<line x1="132.30" y1="720.55" x2="132.30" y2="724.55" stroke="#000" stroke-width="1.3"/>
<line x1="149.40" y1="720.55" x2="149.40" y2="724.55" stroke="#000" stroke-width="1.3"/>
<line x1="166.70" y1="720.55" x2="166.70" y2="724.55" stroke="#000" stroke-width="1.3"/>
<line x1="183.80" y1="720.55" x2="183.80" y2="724.55" stroke="#000" stroke-width="1.3"/>
<line x1="200.10" y1="720.55" x2="200.10" y2="724.55" stroke="#000" stroke-width="1.3"/>
<line x1="217.20" y1="720.55" x2="217.20" y2="724.55" stroke="#000" stroke-width="1.3"/>
<line x1="234.30" y1="720.55" x2="234.30" y2="724.55" stroke="#000" stroke-width="1.3"/>
<line x1="251.60" y1="720.55" x2="251.60" y2="724.55" stroke="#000" stroke-width="1.3"/>
<line x1="268.80" y1="720.55" x2="268.80" y2="724.55" stroke="#000" stroke-width="1.3"/>
<line x1="285.90" y1="720.55" x2="285.90" y2="724.55" stroke="#000" stroke-width="1.3"/>
<line x1="303.05" y1="720.55" x2="303.05" y2="724.55" stroke="#000" stroke-width="1.3"/>
<line x1="320.00" y1="720.55" x2="320.00" y2="724.55" stroke="#000" stroke-width="1.3"/>
<line x1="337.35" y1="720.55" x2="337.35" y2="724.55" stroke="#000" stroke-width="1.3"/>
<line x1="354.50" y1="720.55" x2="354.50" y2="724.55" stroke="#000" stroke-width="1.3"/>
<line x1="371.70" y1="720.55" x2="371.70" y2="724.55" stroke="#000" stroke-width="1.3"/>
<line x1="389.00" y1="720.55" x2="389.00" y2="724.55" stroke="#000" stroke-width="1.3"/>
<line x1="406.10" y1="720.55" x2="406.10" y2="724.55" stroke="#000" stroke-width="1.3"/>
<line x1="423.10" y1="720.55" x2="423.10" y2="724.55" stroke="#000" stroke-width="1.3"/>
<line x1="440.40" y1="720.55" x2="440.40" y2="724.55" stroke="#000" stroke-width="1.3"/>
<line x1="457.40" y1="720.55" x2="457.40" y2="724.55" stroke="#000" stroke-width="1.3"/>
<line x1="473.90" y1="720.55" x2="473.90" y2="724.55" stroke="#000" stroke-width="1.3"/>
<line x1="490.80" y1="720.55" x2="490.80" y2="724.55" stroke="#000" stroke-width="1.3"/>
<line x1="508.20" y1="720.55" x2="508.20" y2="724.55" stroke="#000" stroke-width="1.3"/>
<line x1="525.30" y1="720.55" x2="525.30" y2="724.55" stroke="#000" stroke-width="1.3"/>
<line x1="542.40" y1="720.55" x2="542.40" y2="724.55" stroke="#000" stroke-width="1.3"/>
<line x1="559.60" y1="720.55" x2="559.60" y2="724.55" stroke="#000" stroke-width="1.3"/>
<line x1="577.00" y1="720.55" x2="577.00" y2="724.55" stroke="#000" stroke-width="1.3"/>
<line x1="594.00" y1="720.55" x2="594.00" y2="724.55" stroke="#000" stroke-width="1.3"/>
<line x1="611.10" y1="720.55" x2="611.10" y2="724.55" stroke="#000" stroke-width="1.3"/>
<line x1="628.30" y1="720.55" x2="628.30" y2="724.55" stroke="#000" stroke-width="1.3"/>
<line x1="645.50" y1="720.55" x2="645.50" y2="724.55" stroke="#000" stroke-width="1.3"/>
<line x1="662.65" y1="720.55" x2="662.65" y2="724.55" stroke="#000" stroke-width="1.3"/>
<line x1="679.83" y1="720.55" x2="679.83" y2="724.55" stroke="#000" stroke-width="1.3"/>
<line x1="697.10" y1="720.55" x2="697.10" y2="724.55" stroke="#000" stroke-width="1.3"/>
<text transform="translate(92.47,737.25) rotate(-45)" text-anchor="end" class="tx">Jun-18</text>
<text transform="translate(126.70,737.25) rotate(-45)" text-anchor="end" class="tx">Aug-18</text>
<text transform="translate(161.05,737.25) rotate(-45)" text-anchor="end" class="tx">Oct-18</text>
<text transform="translate(194.95,737.25) rotate(-45)" text-anchor="end" class="tx">Dec-18</text>
<text transform="translate(228.75,737.25) rotate(-45)" text-anchor="end" class="tx">Feb-19</text>
<text transform="translate(263.20,737.25) rotate(-45)" text-anchor="end" class="tx">Apr-19</text>
<text transform="translate(297.48,737.25) rotate(-45)" text-anchor="end" class="tx">Jun-19</text>
<text transform="translate(331.68,737.25) rotate(-45)" text-anchor="end" class="tx">Aug-19</text>
<text transform="translate(366.10,737.25) rotate(-45)" text-anchor="end" class="tx">Oct-19</text>
<text transform="translate(400.55,737.25) rotate(-45)" text-anchor="end" class="tx">Dec-19</text>
<text transform="translate(434.75,737.25) rotate(-45)" text-anchor="end" class="tx">Feb-20</text>
<text transform="translate(468.65,737.25) rotate(-45)" text-anchor="end" class="tx">Apr-20</text>
<text transform="translate(502.50,737.25) rotate(-45)" text-anchor="end" class="tx">Jun-20</text>
<text transform="translate(536.85,737.25) rotate(-45)" text-anchor="end" class="tx">Aug-20</text>
<text transform="translate(571.30,737.25) rotate(-45)" text-anchor="end" class="tx">Oct-20</text>
<text transform="translate(605.55,737.25) rotate(-45)" text-anchor="end" class="tx">Dec-20</text>
<text transform="translate(639.90,737.25) rotate(-45)" text-anchor="end" class="tx">Feb-21</text>
<text transform="translate(674.24,737.25) rotate(-45)" text-anchor="end" class="tx">Apr-21</text>
</svg>
</body></html>
